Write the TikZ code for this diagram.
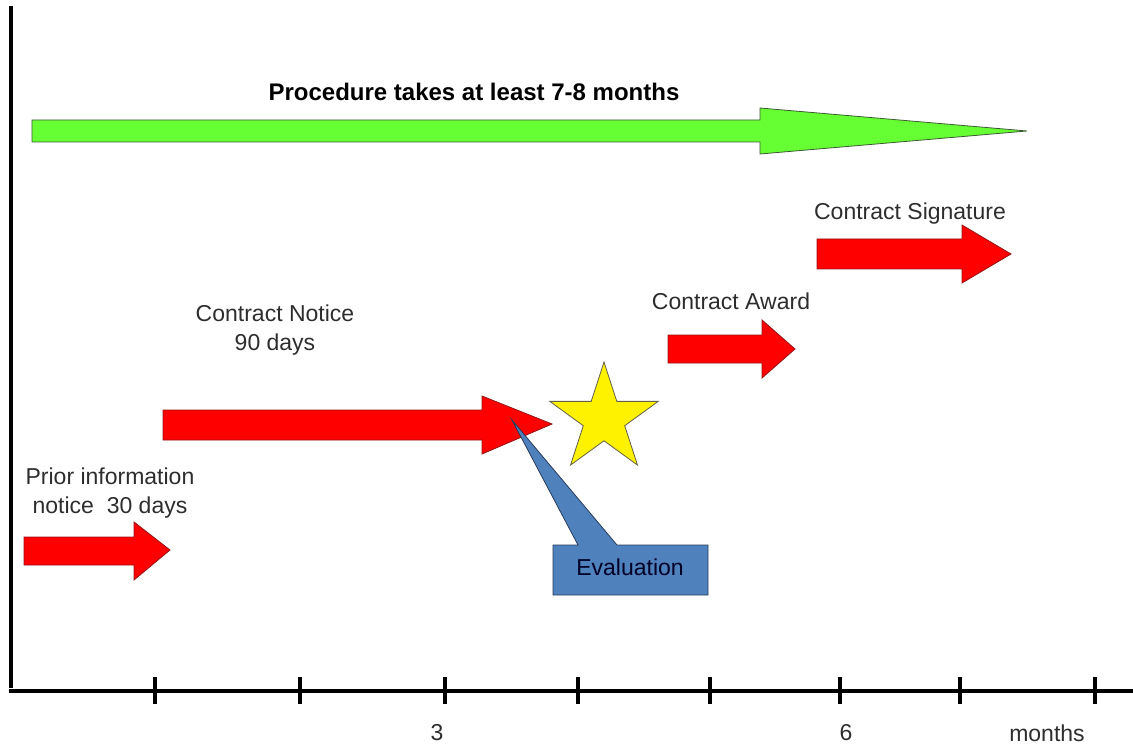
\documentclass[tikz,border=0pt]{standalone}
\usepackage{fontspec}
\setmainfont{Liberation Sans}
\usetikzlibrary{shapes.geometric}
\definecolor{redfill}{RGB}{255,0,0}
\definecolor{redline}{RGB}{150,20,20}
\definecolor{greenfill}{RGB}{102,255,51}
\definecolor{greenline}{RGB}{60,90,50}
\definecolor{bluefill}{RGB}{79,129,189}
\definecolor{blueline}{RGB}{40,60,90}
\definecolor{txt}{RGB}{45,45,45}
\tikzset{
  redarrow/.style={fill=redfill,draw=redline,line width=0.8pt,line join=miter},
  greenarrow/.style={fill=greenfill,draw=greenline,line width=0.8pt},
  lbl/.style={text=txt,font=\fontsize{23}{29}\selectfont,inner sep=0pt,align=center},
  axisline/.style={line width=4.5pt,black},
  tickline/.style={line width=3.5pt,black},
}
\begin{document}
\begin{tikzpicture}[x=1pt,y=-1pt]
\useasboundingbox (0,0) rectangle (1133,746);
% axes
\coordinate (ytop) at (11,6);
\coordinate (ybot) at (11,688);
\draw[line width=4pt] (ytop) -- (ybot);
\coordinate (xl) at (9,691);
\coordinate (xr) at (1133,691);
\draw[axisline] (xl) -- (xr);
\foreach \x in {155,300,445,578,710,840,960,1095}{
  \draw[tickline] (\x,677) -- (\x,704);
}
\node[lbl] (m3) at (437,733) {3};
\node[lbl] (m6) at (846,733) {6};
\node[lbl] (mm) at (1047,733) {months};
% green arrow
\draw[greenarrow] (32,120) -- (760,120) -- (760,108) -- (1027,131) -- (760,154) -- (760,142) -- (32,142) -- cycle;
\node[text=black,font=\bfseries\fontsize{24}{28}\selectfont,inner sep=0pt] (title) at (474,92) {Procedure takes at least 7-8 months};
% prior information arrow
\draw[redarrow] (24,537) -- (134,537) -- (134,522) -- (170,550) -- (134,580) -- (134,565) -- (24,565) -- cycle;
\node[lbl] (prior) at (110,493) {Prior information\\ notice\ \ 30 days};
% contract notice arrow
\draw[redarrow] (163,410) -- (482,410) -- (482,396) -- (552,424) -- (482,454) -- (482,440) -- (163,440) -- cycle;
\node[lbl] (notice) at (275,330) {Contract Notice\\90 days};
% star
\node[star,star points=5,star point ratio=2.618,minimum size=114pt,inner sep=0pt,fill=yellow,draw=black!70!yellow,line width=0.8pt] (star) at (604,419) {};
% contract award arrow
\draw[redarrow] (668,335) -- (762,335) -- (762,320) -- (795,349) -- (762,378) -- (762,363) -- (668,363) -- cycle;
\node[lbl] (award) at (731,301) {Contract Award};
% contract signature arrow
\draw[redarrow] (817,239) -- (962,239) -- (962,225) -- (1011,254) -- (962,283) -- (962,269) -- (817,269) -- cycle;
\node[lbl] (sign) at (910,214) {Contract Signature};
% evaluation callout
\coordinate (calltip) at (512,420);
\draw[fill=bluefill,draw=blueline,line width=0.8pt] (553,545) -- (578,545) -- (calltip) -- (617,545) -- (708,545) -- (708,595) -- (553,595) -- cycle;
\node[lbl,text=black!85!blue] (eval) at (630,567) {Evaluation};
\end{tikzpicture}
\end{document}
